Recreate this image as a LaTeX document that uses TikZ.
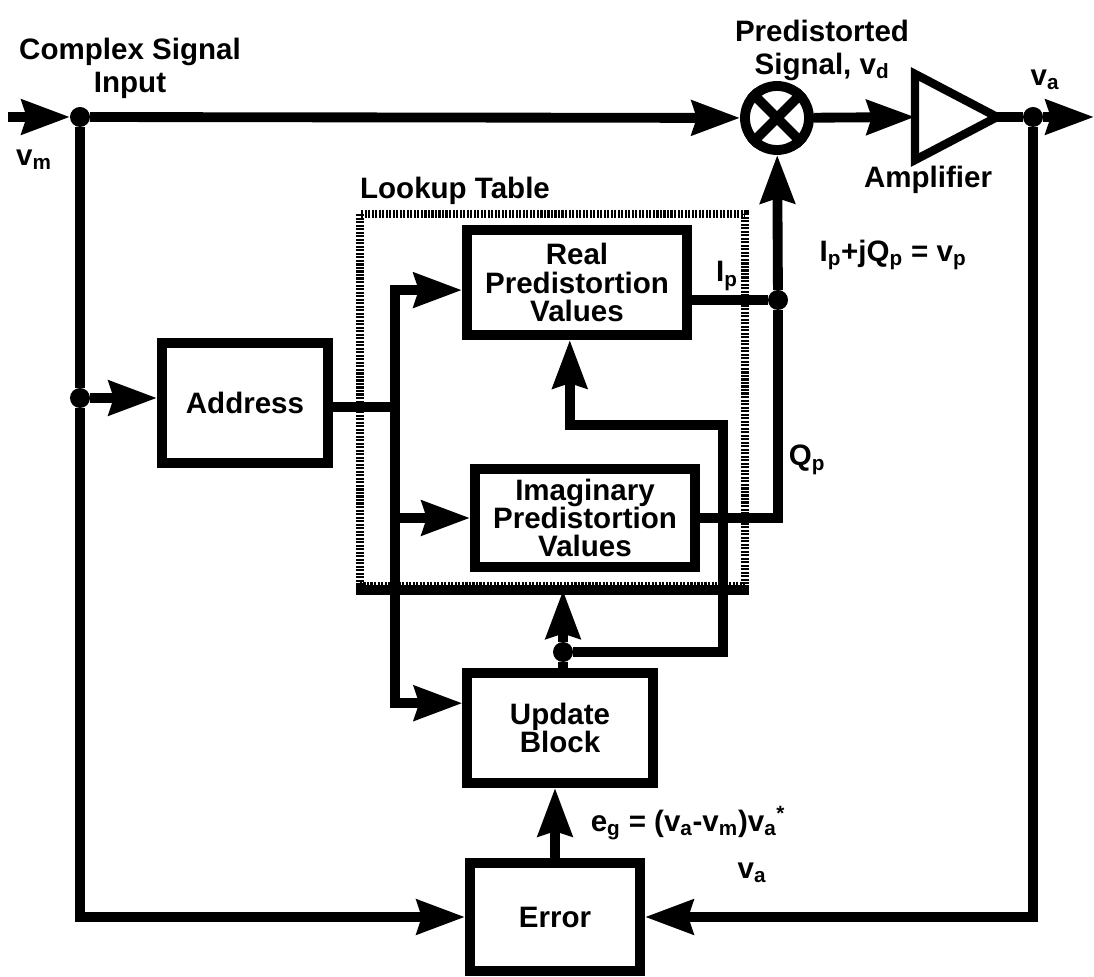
\documentclass[tikz,border=0pt]{standalone}
\usepackage{fontspec}
\setmainfont{Liberation Sans}
\usetikzlibrary{arrows.meta, positioning, calc, shapes.geometric}

\begin{document}
\begin{tikzpicture}[x=0.025cm, y=-0.025cm,
    line width=7pt,
    wire/.style={line width=7pt},
    sig/.style={wire, -{Stealth[length=1.2cm, width=0.85cm, inset=0.12cm]}},
    blk/.style={draw, line width=7pt, rectangle, inner sep=0pt, align=center,
        font=\fontsize{21}{20}\selectfont\bfseries},
    dot/.style={circle, fill, inner sep=0pt, outer sep=0pt, minimum size=0.5cm},
    lbl/.style={inner sep=0pt, align=center, font=\fontsize{21}{23.4}\selectfont\bfseries}]

    \useasboundingbox (0,0) rectangle (1094,977);

    % lookup table frame
    \node[draw, line width=6pt, dash pattern=on 1.5pt off 1pt, minimum width=9.625cm, minimum height=9.3cm] (lut) at (552.5,400) {};
    \draw[wire] (lut.south west) -- (lut.south east);
    \node[lbl] (lbllut) at (455,191) {Lookup Table};

    % blocks
    \node[blk, minimum width=5.5cm, minimum height=2.625cm] (real) at (577,282.5) {Real\\Predistortion\\Values};
    \node[blk, minimum width=5.5cm, minimum height=2.43cm] (imag) at (585,518) {Imaginary\\Predistortion\\Values};
    \node[blk, minimum width=4.15cm, minimum height=3cm] (addr) at (245,403) {Address};
    \node[blk, minimum width=4.63cm, minimum height=2.75cm] (update) at (560,728) {Update\\Block};
    \node[blk, minimum width=4.25cm, minimum height=2.7cm] (error) at (555,917) {Error};

    % mixer and amplifier
    \node[circle, draw, minimum size=1.6cm, inner sep=0pt] (mix) at (777,118) {};
    \draw[wire] (mix.north west) -- (mix.south east);
    \draw[wire] (mix.north east) -- (mix.south west);
    \node[draw, isosceles triangle, isosceles triangle stretches, minimum width=2.15cm, minimum height=2.05cm, inner sep=0pt, outer sep=0pt, line width=6pt, anchor=west] (amp) at (915,117) {};

    % junctions
    \node[dot] (j1) at (80,117) {};
    \node[dot] (j2) at (1033,117) {};
    \node[dot] (j3) at (80,398) {};
    \node[dot] (jp) at (778,300) {};
    \node[dot] (ju) at (563,652) {};
    \coordinate (in) at (8,117);
    \coordinate (out) at (1094,117);
    \coordinate (br) at (395,407);
    \coordinate (fbr) at (723,425);

    % labels
    \node[lbl] (lblin) at (130,68) {Complex Signal\\Input};
    \node[lbl] (lblpd) at (822,50) {Predistorted\\Signal, v\textsubscript{d}};
    \node[lbl] (lblvm) at (34,160) {v\textsubscript{m}};
    \node[lbl] (lblva) at (1045,80) {v\textsubscript{a}};
    \node[lbl] (lblamp) at (928,180) {Amplifier};
    \node[lbl] (lblip) at (727,276) {I\textsubscript{p}};
    \node[lbl] (lblvp) at (893,255) {I\textsubscript{p}+jQ\textsubscript{p} = v\textsubscript{p}};
    \node[lbl] (lblqp) at (807,460) {Q\textsubscript{p}};
    \node[lbl] (lbleg) at (688,823) {e\textsubscript{g} = (v\textsubscript{a}-v\textsubscript{m})v\textsubscript{a}\textsuperscript{*}};
    \node[lbl] (lblva2) at (752,873) {v\textsubscript{a}};

    % signal path
    \draw[sig] (in) -- (j1);
    \draw[sig] (j1) -- (mix);
    \draw[sig] (mix) -- (amp.west);
    \draw[wire] (amp.east) -- (j2);
    \draw[sig] (j2) -- (out);

    % loops to error
    \draw[wire] (j1) -- (j3);
    \draw[sig] (j3) -- (j3 -| addr.west);
    \draw[sig] (j3) |- (error.west);
    \draw[sig] (j2) |- (error.east);

    % address to tables
    \draw[wire] (addr.east |- br) -- (br);
    \draw[sig] (br) |- ([yshift=-0.19cm]real.west);
    \draw[sig] (br) |- (imag.west);
    \draw[sig] (br) |- ([yshift=0.62cm]update.west);

    % table outputs
    \draw[wire] (real.east |- jp) -- (jp);
    \draw[wire] (imag.east) -| (jp);
    \draw[sig] (jp) -- (mix);

    % update
    \draw[wire] (update.north -| ju) -- (ju);
    \draw[sig] (ju) -- (ju |- lut.south);
    \draw[sig] (ju) -| (fbr) -| ([xshift=-0.18cm]real.south);
    \draw[sig] (error.north) -- (error.north |- update.south);
\end{tikzpicture}
\end{document}
